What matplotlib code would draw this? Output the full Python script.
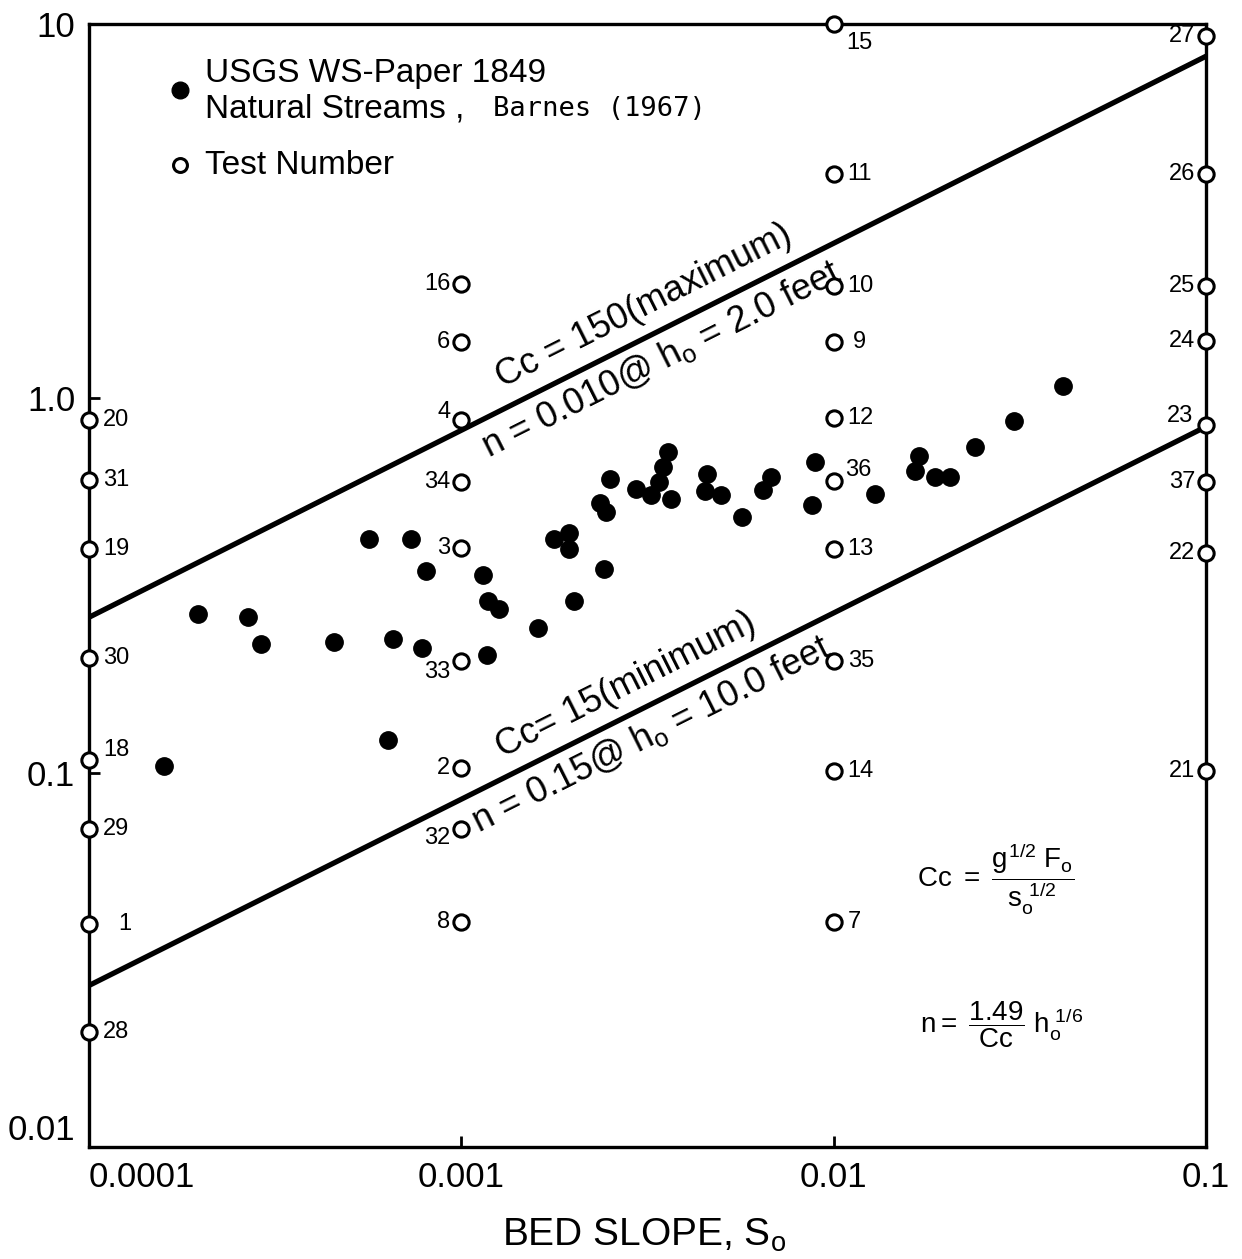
import numpy as np
import matplotlib.pyplot as plt
from matplotlib.ticker import NullLocator

plt.rcParams['font.family'] = ['Liberation Sans', 'DejaVu Sans']
plt.rcParams['mathtext.fontset'] = 'custom'
plt.rcParams['mathtext.rm'] = 'Liberation Sans'
plt.rcParams['mathtext.it'] = 'Liberation Sans'
plt.rcParams['mathtext.bf'] = 'Liberation Sans:bold'

# Barnes (1967) natural streams, bed slope vs value
barnes_slope = [1.59e-4, 1.96e-4, 2.67e-4, 2.90e-4, 4.56e-4, 5.66e-4, 6.37e-4, 6.56e-4,
                7.34e-4, 7.86e-4, 8.05e-4, 1.14e-3, 1.17e-3, 1.18e-3, 1.26e-3, 1.61e-3,
                1.77e-3, 1.94e-3, 1.94e-3, 2.01e-3, 2.35e-3, 2.42e-3, 2.44e-3, 2.50e-3,
                2.95e-3, 3.22e-3, 3.39e-3, 3.47e-3, 3.58e-3, 3.65e-3, 4.56e-3, 4.50e-3,
                4.97e-3, 5.66e-3, 6.44e-3, 6.77e-3, 8.89e-3, 8.73e-3, 1.29e-2, 1.65e-2,
                1.69e-2, 1.87e-2, 2.05e-2, 2.39e-2, 3.05e-2, 4.13e-2]
barnes_value = [0.104, 0.266, 0.260, 0.221, 0.223, 0.420, 0.1225, 0.228,
                0.422, 0.215, 0.345, 0.338, 0.206, 0.288, 0.273, 0.243,
                0.422, 0.436, 0.395, 0.288, 0.524, 0.349, 0.496, 0.607,
                0.571, 0.551, 0.596, 0.654, 0.717, 0.537, 0.626, 0.564,
                0.551, 0.481, 0.568, 0.615, 0.674, 0.518, 0.554, 0.638,
                0.700, 0.618, 0.615, 0.740, 0.868, 1.077]

# test numbers, grouped by bed slope
test_slope = [1e-4] * 8 + [1e-3] * 9 + [1e-2] * 10 + [1e-1] * 8
test_value = [0.873, 0.604, 0.395, 0.202, 0.108, 0.0708, 0.0395, 0.0203,
              2.02, 1.41, 0.873, 0.596, 0.397, 0.199, 0.1026, 0.0708, 0.0398,
              10.0, 3.97, 2.0, 1.41, 0.884, 0.600, 0.395, 0.199, 0.1007, 0.0400,
              9.29, 3.97, 2.0, 1.42, 0.847, 0.596, 0.385, 0.1007]
test_number = ['20', '31', '19', '30', '18', '29', '1', '28',
               '16', '6', '4', '34', '3', '33', '2', '32', '8',
               '15', '11', '10', '9', '12', '36', '13', '35', '14', '7',
               '27', '26', '25', '24', '23', '37', '22', '21']

# limit lines (end points)
line_slope = [1e-4, 1e-1]
cc150 = [0.26, 8.2]
cc15 = [0.027, 0.84]

# label offsets (points) that differ from the default
label_shift = {'1': (21, 0), '18': (10, 7), '4': (-8, 6), '33': (-8, -8), '32': (-8, -7),
               '15': (9, -14), '36': (8, 8), '9': (14, 0), '23': (-9, 7)}

fig = plt.figure(figsize=(12.42, 12.59), dpi=100)
ax = fig.add_axes([0.0717, 0.089, 0.8994, 0.892])
ax.set_xscale('log')
ax.set_yscale('log')
ax.set_xlim(1e-4, 1e-1)
ax.set_ylim(0.01, 10)

ax.plot(line_slope, cc150, color='black', lw=3.8, solid_capstyle='butt', zorder=2)
ax.plot(line_slope, cc15, color='black', lw=3.8, solid_capstyle='butt', zorder=2)

ax.plot(barnes_slope, barnes_value, 'o', color='black', ms=12.5, zorder=3)
ax.plot(test_slope, test_value, 'o', mfc='white', mec='black', ms=11, mew=2.2,
        zorder=5, clip_on=False)

for s, v, t in zip(test_slope, test_value, test_number):
    if s in (1e-4, 1e-2):
        dx, ha = 10, 'left'
    else:
        dx, ha = -8, 'right'
    dy = 0
    if t in label_shift:
        dx, dy = label_shift[t]
    ax.annotate(t, (s, v), xytext=(dx, dy), textcoords='offset points',
                ha=ha, va='center', fontsize=17, zorder=6)

# rotated labels along the limit lines
p0 = ax.transData.transform((line_slope[0], cc150[0]))
p1 = ax.transData.transform((line_slope[1], cc150[1]))
ang = np.degrees(np.arctan2(p1[1] - p0[1], p1[0] - p0[0]))
nx, ny = -np.sin(np.radians(ang)), np.cos(np.radians(ang))


def on_line(s, ends):
    k = np.log10(ends[1] / ends[0]) / 3
    return ends[0] * (s / 1e-4) ** k


def line_text(s, ends, txt, gap, size):
    va = 'bottom' if gap > 0 else 'top'
    ax.annotate(txt, (s, on_line(s, ends)), xytext=(nx * gap, ny * gap),
                textcoords='offset points', rotation=ang, rotation_mode='anchor',
                ha='center', va=va, fontsize=size)


line_text(3.35e-3, cc150, 'Cc = 150(maximum)', 8, 26)
line_text(3.2e-3, cc150, r'n = 0.010@ h$_\mathrm{o}$ = 2.0 feet', -6, 26)
line_text(3.0e-3, cc15, 'Cc= 15(minimum)', 8, 26)
line_text(3.0e-3, cc15, r'n = 0.15@ h$_\mathrm{o}$ = 10.0 feet', -6, 26)

# legend
ax.plot([0.0815], [0.941], 'o', color='black', ms=12, transform=ax.transAxes)
ax.plot([0.0815], [0.874], 'o', mfc='white', mec='black', ms=10, mew=2.2,
        transform=ax.transAxes)
ax.text(0.104, 0.956, 'USGS WS-Paper 1849', transform=ax.transAxes, fontsize=24,
        va='center')
ax.text(0.104, 0.924, 'Natural Streams ,', transform=ax.transAxes, fontsize=24,
        va='center')
ax.text(0.362, 0.924, 'Barnes (1967)', transform=ax.transAxes, fontsize=19.5,
        va='center', family='DejaVu Sans Mono')
ax.text(0.104, 0.874, 'Test Number', transform=ax.transAxes, fontsize=24,
        va='center')

# formulas
ax.text(0.741, 0.238, r'Cc $=$ $\dfrac{g^{1/2}\ F_o}{s_o^{\ 1/2}}$', transform=ax.transAxes,
        fontsize=20, va='center')
ax.text(0.744, 0.109, r'n$=$ $\dfrac{1.49}{Cc}$ h$_o^{\ 1/6}$', transform=ax.transAxes,
        fontsize=20, va='center')

# axes styling
for sp in ax.spines.values():
    sp.set_linewidth(2.4)
ax.xaxis.set_minor_locator(NullLocator())
ax.yaxis.set_minor_locator(NullLocator())
ax.set_xticks([1e-4, 1e-3, 1e-2, 1e-1])
ax.set_xticklabels(['0.0001', '0.001', '0.01', '0.1'])
ax.set_yticks([0.01, 0.1, 1, 10])
ax.set_yticklabels(['0.01', '0.1', '1.0', '10'])
ax.tick_params(direction='in', length=8, width=2, labelsize=25, pad=10)
ax.get_xticklabels()[0].set_ha('left')
ax.get_yticklabels()[0].set_va('bottom')

fig.text(644 / 1242, 1 - 1235 / 1259, r'BED SLOPE, S$_\mathrm{o}$', ha='center',
         va='center', fontsize=28)

fig.savefig('out.png', dpi=100)
